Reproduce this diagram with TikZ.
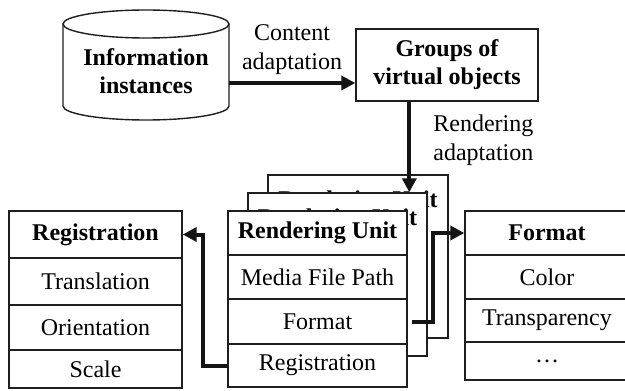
\documentclass[tikz,border=0pt]{standalone}
\usepackage{fontspec}
\setmainfont{Liberation Serif}
\usetikzlibrary{arrows.meta,calc}

\tikzset{
  ink/.style={draw=black!88, line width=0.7pt},
  box/.style={ink, fill=white, rectangle, inner sep=0pt, align=center,
              font=\fontsize{12}{14}\selectfont},
  cell/.style 2 args={box, minimum width=#1, minimum height=#2},
  plain/.style={inner sep=0pt, align=center, font=\fontsize{12}{14.5}\selectfont},
  bold/.style={font=\fontsize{12}{14}\selectfont\bfseries},
  flow/.style={draw=black!92, line width=2pt,
               -{Triangle[length=7pt,width=7pt]}},
}

\begin{document}
\begin{tikzpicture}[x=0.5pt,y=-0.5pt]
  \useasboundingbox (0,0) rectangle (625,390);
  \clip (0,0) rectangle (625,390);

  % Data store: cylinder
  \draw[ink, fill=white] (63,24) -- (63,106)
      arc[start angle=180, end angle=360, x radius=41.5pt, y radius=7pt]
      -- (229,24);
  \draw[ink] (146,24) ellipse [x radius=41.5pt, y radius=7pt];
  \node[plain, bold, minimum width=83pt] (info) at (146,71)
      {Information\\instances};
  \coordinate (cylR) at (229,83);

  % Groups of virtual objects
  \node[cell={91pt}{36pt}, bold] (groups) at (447,65)
      {Groups of\\virtual objects};

  % Edge labels
  \node[plain] (lblContent) at (292,50) {Content\\adaptation};
  \node[plain, align=left, anchor=west] (lblRender) at (433,140)
      {Rendering\\adaptation};

  % Stack of rendering units (back to front)
  \node[cell={90pt}{81.5pt}] (card3) at (358,256.5) {};
  \node[plain, bold] (card3t) at (358,202) {Rendering Unit};
  \node[cell={89.5pt}{81.5pt}] (card2) at (337.5,274.5) {};
  \node[plain, bold] (card2t) at (337.5,220) {Rendering Unit};

  \node[cell={89.5pt}{22pt}, bold] (ruT) at (317.5,233)   {Rendering Unit};
  \node[cell={89.5pt}{22pt}]       (ruM) at (317.5,277)   {Media File Path};
  \node[cell={89.5pt}{22.5pt}]     (ruF) at (317.5,321.5) {Format};
  \node[cell={89.5pt}{21.5pt}]     (ruR) at (317.5,365.5) {Registration};

  % Registration table
  \node[cell={86.5pt}{23.5pt}, bold] (regT)  at (95.5,234.5) {Registration};
  \node[cell={86.5pt}{23.5pt}]       (regTr) at (95.5,281.5) {Translation};
  \node[cell={86.5pt}{22.5pt}]       (regO)  at (95.5,327.5) {Orientation};
  \node[cell={86.5pt}{19pt}]         (regS)  at (95.5,369)   {Scale};

  % Format table
  \node[cell={82pt}{22pt}, bold] (fmT)  at (547,233)   {Format};
  \node[cell={82pt}{22pt}]       (fmC)  at (547,277)   {Color};
  \node[cell={82pt}{21.5pt}]     (fmTr) at (547,320.5) {Transparency};
  \node[cell={82pt}{19pt}]       (fmD)  at (547,361)   {\dots};

  % Connectors
  \draw[flow] (cylR) -- (cylR -| groups.west);
  \draw[flow] ([xshift=27pt]groups.south west)
      -- ([xshift=27pt]groups.south west |- card2.north);
  \draw[flow] (ruR.west) -- ++(-24,0) |- (regT.east);
  \draw[flow] ([xshift=2pt]ruF.east) -- ++(21,0) |- (fmT.west);
\end{tikzpicture}
\end{document}
